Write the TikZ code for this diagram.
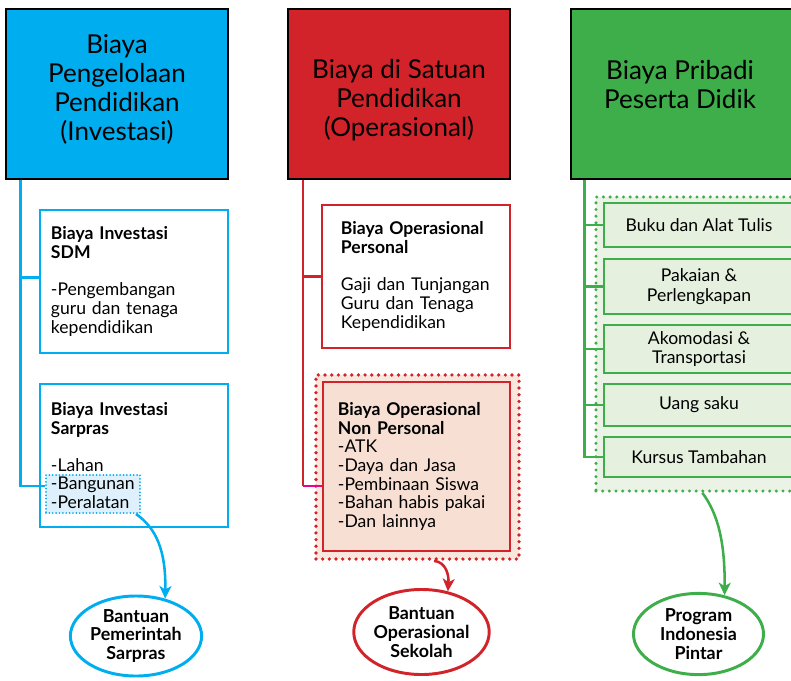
\documentclass[tikz,border=0pt]{standalone}
\usepackage{fontspec}
\setmainfont{Lato}
\usetikzlibrary{shapes.geometric,calc,fit,positioning,arrows.meta}
\definecolor{invblue}{HTML}{00AEEF}
\definecolor{opred}{HTML}{D2232A}
\definecolor{pdgreen}{HTML}{3DAE49}
\definecolor{linkpink}{HTML}{EC008C}
\definecolor{hlblue}{HTML}{DDF0FB}
\definecolor{peach}{HTML}{F7DFD3}
\definecolor{lightpeach}{HTML}{F9E6DC}
\definecolor{lightgreen}{HTML}{E5F0DF}
\tikzset{
%Define standard arrow tip
>={Stealth[length=9pt,width=8.5pt,inset=2.5pt]},
%Header boxes of the three groups
head/.style={draw=black, line width=0.8pt, minimum width=5.55cm, minimum height=4.25cm,
  inner sep=0pt},
headtext/.style={align=center, inner sep=0pt, font=\fontsize{18.5}{20.6}\selectfont},
%Boxes with a bold title and a list
costbox/.style={line width=1.9pt, align=left, inner ysep=0pt, minimum height=3.575cm,
  font=\fontsize{12.5}{13.3}\selectfont},
sdmbox/.style={costbox, draw=invblue, text width=4.15cm, inner xsep=0.275cm},
persbox/.style={costbox, draw=opred, text width=3.75cm, inner xsep=0.475cm},
%Dotted frames
bigdots/.style={line width=2.6pt, line cap=round, dash pattern=on 0pt off 4.75pt},
smalldots/.style={line width=1.4pt, line cap=round, dash pattern=on 0pt off 2.4pt},
itembox/.style={draw=pdgreen, fill=lightgreen, line width=1.1pt, minimum width=4.75cm,
  align=center, inner sep=0pt, font=\fontsize{12.5}{14}\selectfont},
%Lines from the headers
trunk/.style={line width=1.8pt},
%Funding programmes
goal/.style={ellipse, line width=2.1pt, fill=white, align=center, inner sep=0pt,
  font=\bfseries\fontsize{12.7}{13.4}\selectfont},
flow/.style={->, line width=1.8pt},
}

\begin{document}
\begin{tikzpicture}[x=0.025cm, y=-0.025cm]
    \useasboundingbox (0,0) rectangle (791,680);
    %Draw the headers
    \node[head, fill=invblue] (inv) at (117,94) {};
    \node[head, fill=opred] (ops) at (399,94) {};
    \node[head, fill=pdgreen, minimum width=5.6cm] (pri) at (683,94) {};
    \node[headtext] (invtitle) at ($(inv.center)+(0,-5)$) {Biaya\\Pengelolaan\\Pendidikan\\(Investasi)};
    \node[headtext] (opstitle) at ($(ops.center)+(0,6)$) {Biaya di Satuan\\Pendidikan\\(Operasional)};
    \node[headtext] (prititle) at ($(pri.center)+(-3,-9)$) {Biaya Pribadi\\Peserta Didik};

    %%Investasi
    \node[sdmbox] (sdm) at (134,281.5) {\textbf{Biaya Investasi}\\\textbf{SDM}\\[13pt]
      -Pengembangan\\guru dan tenaga\\kependidikan};
    \node[draw=invblue, fill=hlblue, smalldots, minimum width=2.35cm, minimum height=0.95cm,
      inner sep=0pt] (hl) at (93,494) {};
    \node[sdmbox] (sar) at (134,455.5) {\textbf{Biaya Investasi}\\\textbf{Sarpras}\\[13pt]
      -Lahan\\-Bangunan\\-Peralatan};
    \coordinate (invtrunk) at ($(inv.south west)+(15,0)$);
    \draw[trunk, invblue] (invtrunk) |- ($(sdm.west)+(0,-4)$);
    \draw[trunk, invblue] (invtrunk) |- ($(hl.west)+(0,-8)$);

    %%Operasional
    \node[persbox] (pers) at (416,276.5) {\textbf{Biaya Operasional}\\\textbf{Personal}\\[13pt]
      Gaji dan Tunjangan\\Guru dan Tenaga\\Kependidikan};
    \node[draw=opred, fill=lightpeach, bigdots, minimum width=5.075cm, minimum height=4.6cm,
      inner sep=0pt] (npo) at (417.5,467) {};
    \node[persbox, fill=peach, text width=3.925cm, inner xsep=0.375cm, minimum height=4.225cm]
      (nonpers) at (416.5,466.5) {\textbf{Biaya Operasional}\\\textbf{Non Personal}\\
      -ATK\\-Daya dan Jasa\\-Pembinaan Siswa\\-Bahan habis pakai\\-Dan lainnya};
    \coordinate (optrunk) at ($(ops.south west)+(16,0)$);
    \coordinate (npin) at ($(nonpers.west)+(0,19.5)$);
    \draw[trunk, opred, line width=1.5pt] (optrunk) |- (pers.west);
    \draw[trunk, opred, line width=1.5pt] (optrunk) -- (optrunk |- npin);
    \draw[trunk, linkpink, line width=1.5pt] (optrunk |- npin) -- (npin);

    %%Pribadi
    \node[draw=pdgreen, fill=lightgreen!80!white, bigdots, line width=2.4pt, minimum width=5.35cm,
      minimum height=7.35cm, inner sep=0pt] (pdo) at (703,344) {};
    \node[itembox, minimum height=1.1cm] (buku) at (699,225) {Buku dan Alat Tulis};
    \node[itembox, minimum height=1.375cm] (pakaian) at (699,286.5) {Pakaian \&\\Perlengkapan};
    \node[itembox, minimum height=1.2cm] (akomodasi) at (699,349) {Akomodasi \&\\Transportasi};
    \node[itembox, minimum height=1.05cm] (uang) at (699,405) {Uang saku};
    \node[itembox, minimum height=1.0cm] (kursus) at (699,457) {Kursus Tambahan};
    \coordinate (pdtrunk) at ($(pri.south west)+(14,0)$);
    \draw[trunk, pdgreen] (pdtrunk) |- (kursus.west);
    \foreach \b in {buku,pakaian,akomodasi,uang}
      \draw[trunk, pdgreen] (pdtrunk |- \b.west) -- (\b.west);

    %Funding programmes
    \node[goal, draw=invblue, minimum width=3.28cm, minimum height=2cm] (bps) at (136,636)
      {Bantuan\\Pemerintah\\Sarpras};
    \node[goal, draw=opred, minimum width=3.2cm, minimum height=2.125cm] (bos) at (421.5,632)
      {Bantuan\\Operasional\\Sekolah};
    \node[goal, draw=pdgreen, minimum width=3.25cm, minimum height=2.03cm] (pip) at (698.5,634)
      {Program\\Indonesia\\Pintar};

    \draw[flow, invblue] ($(hl.south east)+(-5,0)$) .. controls (156,528) and (166,550) .. (bps.52);
    \draw[flow, opred] (npo.-80) .. controls (446,562) and (449,575) .. (bos.57);
    \draw[flow, pdgreen] ($(pdo.south west)+(108,0)$) .. controls (719,515) and (725,545) .. (pip.56);
\end{tikzpicture}
\end{document}
